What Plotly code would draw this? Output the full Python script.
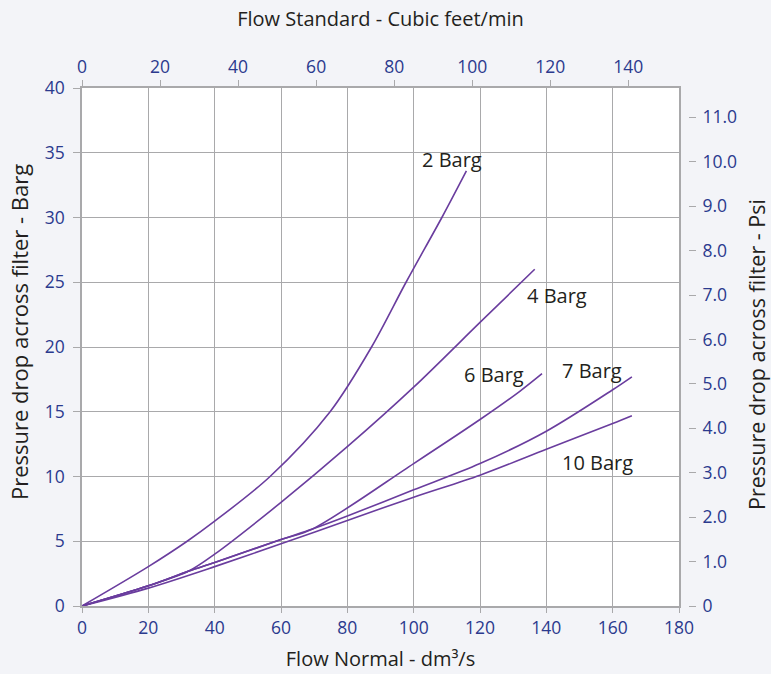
import plotly.graph_objects as go

# ---- data ----
flow_2 = [0, 20, 31.7, 40, 56.7, 74.8, 87.3, 97.7, 108.5, 115.9]
dp_2 = [0, 3.04, 5.0, 6.55, 10.0, 15.0, 20.0, 25.0, 30.0, 33.6]

flow_4 = [0, 20, 32.2, 40, 60, 80, 100, 120, 136.5]
dp_4 = [0, 1.56, 2.7, 4.0, 8.0, 12.3, 16.9, 21.9, 26.0]

flow_6 = [0, 20, 32.2, 40, 60, 69.5, 100, 120, 131.9, 138.7]
dp_6 = [0, 1.56, 2.7, 3.36, 5.13, 5.95, 11.0, 14.4, 16.56, 17.94]

flow_7 = [0, 20, 32.2, 40, 60, 69.5, 80, 100, 120, 140, 160, 165.8]
dp_7 = [0, 1.56, 2.7, 3.36, 5.13, 5.95, 6.95, 8.97, 11.0, 13.5, 16.7, 17.7]

flow_10 = [0, 20, 40, 60, 80, 100, 120, 140, 160, 165.8]
dp_10 = [0, 1.38, 3.04, 4.8, 6.6, 8.4, 10.1, 12.1, 14.1, 14.7]

series_names = ["2 Barg", "4 Barg", "6 Barg", "7 Barg", "10 Barg"]
label_x = [111.5, 143.2, 124.1, 153.7, 155.3]
label_y = [34.45, 24.0, 17.9, 18.2, 11.05]

bottom_ticks = [0, 20, 40, 60, 80, 100, 120, 140, 160, 180]
top_ticks = [0, 20, 40, 60, 80, 100, 120, 140]
left_ticks = [0, 5, 10, 15, 20, 25, 30, 35, 40]
psi_ticks = [0, 1, 2, 3, 4, 5, 6, 7, 8, 9, 10, 11]
psi_text = ["0", "1.0", "2.0", "3.0", "4.0", "5.0", "6.0", "7.0", "8.0", "9.0", "10.0", "11.0"]

left_title = "Pressure drop across filter - Barg"
right_title = "Pressure drop across filter - Psi"

# ---- styling ----
FONT = "Open Sans"
LINE = "#6a3d9e"
GRID = "#a9a9ab"
BLUE = "#2b3a8e"
DARK = "#231f20"

W, H = 771, 674
ML, MR, MT, MB = 82, 40, 88, 68
plot_w = W - ML - MR
plot_h = H - MT - MB
x_dom_end = (679 - ML) / plot_w
psi_pos = (688 - ML) / plot_w

fig = go.Figure()
for name, xs, ys in zip(series_names,
                        [flow_2, flow_4, flow_6, flow_7, flow_10],
                        [dp_2, dp_4, dp_6, dp_7, dp_10]):
    fig.add_trace(go.Scatter(x=xs, y=ys, mode="lines", name=name,
                             line=dict(color=LINE, width=1.6, shape="spline", smoothing=0.9),
                             hoverinfo="name"))

# empty trace to register the secondary axes
fig.add_trace(go.Scatter(x=[], y=[], xaxis="x2", yaxis="y2", showlegend=False, hoverinfo="skip"))

for name, lx, ly in zip(series_names, label_x, label_y):
    fig.add_annotation(x=lx, y=ly, xref="x", yref="y", text=name, showarrow=False,
                       font=dict(family=FONT, size=20, color=DARK),
                       xanchor="center", yanchor="middle")

# vertical axis titles (placed as in the reference, slightly off-centre)
fig.add_annotation(x=(19 - ML) / plot_w, y=(606 - 332) / plot_h, xref="paper", yref="paper",
                   text=left_title, textangle=-90, showarrow=False,
                   font=dict(family=FONT, size=22, color=DARK),
                   xanchor="center", yanchor="middle")
fig.add_annotation(x=(756 - ML) / plot_w, y=(606 - 355) / plot_h, xref="paper", yref="paper",
                   text=right_title, textangle=-90, showarrow=False,
                   font=dict(family=FONT, size=21.5, color=DARK),
                   xanchor="center", yanchor="middle")

tickfont = dict(family=FONT, size=17.5, color=BLUE)
titlefont = dict(family=FONT, size=20, color=DARK)

fig.update_layout(
    width=W, height=H,
    margin=dict(l=ML, r=MR, t=MT, b=MB, autoexpand=False),
    paper_bgcolor="#f3f4f8",
    plot_bgcolor="white",
    showlegend=False,
    font=dict(family=FONT, color=DARK),
    xaxis=dict(
        domain=[0, x_dom_end], range=[0, 180], tickvals=bottom_ticks,
        showgrid=True, gridcolor=GRID, gridwidth=1.3, zeroline=False,
        showline=True, linecolor=GRID, linewidth=1.5, mirror=True,
        ticks="outside", ticklen=5, tickcolor=GRID, tickwidth=1.3,
        tickfont=tickfont, ticklabelstandoff=0,
        title=dict(text="Flow Normal - dm³/s", font=titlefont, standoff=14),
    ),
    xaxis2=dict(
        domain=[0, x_dom_end], range=[0, 153], tickvals=top_ticks,
        overlaying="x", side="top", anchor="y",
        showgrid=False, zeroline=False, showline=False,
        ticks="outside", ticklen=7, tickcolor=GRID, tickwidth=1.3,
        tickfont=tickfont, ticklabelstandoff=0,
        title=dict(text="Flow Standard - Cubic feet/min", font=titlefont, standoff=22),
    ),
    yaxis=dict(
        range=[0, 40], tickvals=left_ticks,
        showgrid=True, gridcolor=GRID, gridwidth=1.3, zeroline=False,
        showline=True, linecolor=GRID, linewidth=1.5, mirror=True,
        ticks="outside", ticklen=7, tickcolor=GRID, tickwidth=1.3,
        tickfont=tickfont, ticklabelstandoff=5,
    ),
    yaxis2=dict(
        range=[0, 11.66], tickvals=psi_ticks, ticktext=psi_text,
        overlaying="y", side="right", anchor="free", position=psi_pos,
        showgrid=False, zeroline=False, showline=False,
        ticks="outside", ticklen=7, tickcolor=GRID, tickwidth=1.3,
        tickfont=tickfont, ticklabelstandoff=3,
    ),
)

fig.write_html("out.html", config={"displayModeBar": False},
               post_script="document.body.style.margin='0';")
